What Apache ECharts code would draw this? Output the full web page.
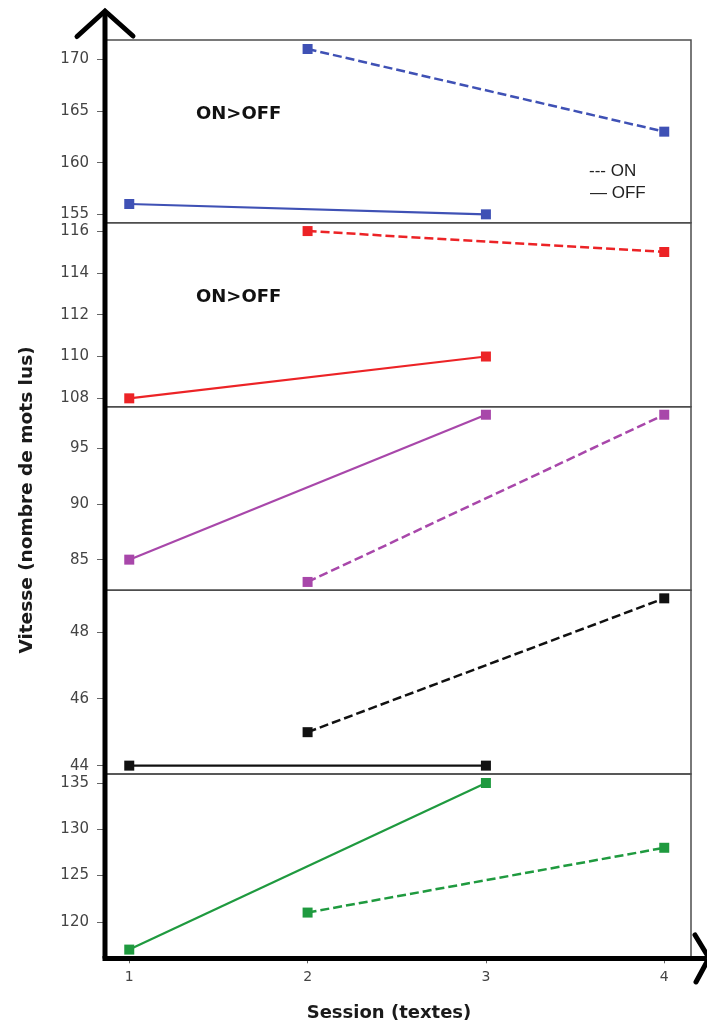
<!DOCTYPE html>
<html>
<head>
<meta charset="utf-8">
<script src="https://cdn.jsdelivr.net/npm/echarts@6/dist/echarts.min.js"></script>
<style>html,body{margin:0;padding:0;background:#fff}#c{width:707px;height:1025px}</style>
</head>
<body>
<div id="c"></div>
<script>
// ---- data ----
var sessionsOff = [1, 3];
var sessionsOn = [2, 4];
var xTicks = [1, 2, 3, 4];

var blueOff = [156, 155];
var blueOn = [171, 163];
var redOff = [108, 110];
var redOn = [116, 115];
var purpleOff = [85, 98];
var purpleOn = [83, 98];
var blackOff = [44, 44];
var blackOn = [45, 49];
var greenOff = [117, 135];
var greenOn = [121, 128];

var ticksP1 = [155, 160, 165, 170];
var ticksP2 = [108, 110, 112, 114, 116];
var ticksP3 = [85, 90, 95];
var ticksP4 = [44, 46, 48];
var ticksP5 = [120, 125, 130, 135];

var yTitle = 'Vitesse (nombre de mots lus)';
var xTitle = 'Session (textes)';
var annot = 'ON>OFF';
var legendOn = '--- ON';
var legendOff = '\u2014 OFF';

// ---- layout / style ----
var gridLeft = 105, gridWidth = 586;
var xMin = 0.864, xMax = 4.150;
var panels = [
  {top: 40,    h: 182.7, min: 154.19, max: 171.87, ticks: ticksP1, color: '#3f51b5', off: blueOff,   on: blueOn},
  {top: 222.7, h: 184,   min: 107.6,  max: 116.40, ticks: ticksP2, color: '#ec2326', off: redOff,    on: redOn},
  {top: 406.7, h: 183.6, min: 82.25,  max: 98.72,  ticks: ticksP3, color: '#a847aa', off: purpleOff, on: purpleOn},
  {top: 590.3, h: 183.7, min: 43.75,  max: 49.24,  ticks: ticksP4, color: '#111111', off: blackOff,  on: blackOn},
  {top: 774,   h: 184.3, min: 116.06, max: 135.97, ticks: ticksP5, color: '#1f9a3f', off: greenOff,  on: greenOn}
];

function pairs(xs, ys) { return xs.map(function (x, i) { return [x, ys[i]]; }); }

var grids = [], xAxes = [], yAxes = [], series = [];
panels.forEach(function (p, i) {
  var last = i === panels.length - 1;
  grids.push({left: gridLeft, width: gridWidth, top: p.top, height: p.h,
    show: true, borderColor: '#4d4d4d', borderWidth: 1.5, backgroundColor: 'transparent'});
  xAxes.push({type: 'value', gridIndex: i, min: xMin, max: xMax,
    axisLine: {show: false}, splitLine: {show: false},
    axisTick: {show: last, customValues: xTicks, length: 5, lineStyle: {color: '#666'}},
    axisLabel: {show: last, customValues: xTicks, margin: 12, color: '#444', fontSize: 14, fontFamily: 'DejaVu Sans'}
  });
  yAxes.push({type: 'value', gridIndex: i, min: p.min, max: p.max,
    axisLine: {show: false}, splitLine: {show: false},
    axisTick: {show: true, customValues: p.ticks, length: 8, lineStyle: {color: '#666', width: 1}},
    axisLabel: {customValues: p.ticks, margin: 16, color: '#444', fontSize: 15, fontFamily: 'DejaVu Sans'}
  });
  series.push({type: 'line', xAxisIndex: i, yAxisIndex: i, data: pairs(sessionsOff, p.off),
    symbol: 'rect', symbolSize: 10, clip: false, animation: false,
    lineStyle: {color: p.color, width: 2.2}, itemStyle: {color: p.color}});
  series.push({type: 'line', xAxisIndex: i, yAxisIndex: i, data: pairs(sessionsOn, p.on),
    symbol: 'rect', symbolSize: 10, clip: false, animation: false,
    lineStyle: {color: p.color, width: 2.5, type: [9, 4]}, itemStyle: {color: p.color}});
});

var axisY = 958.5, axisX = 105;
var graphic = [
  {type: 'polyline', shape: {points: [[axisX, 12], [axisX, axisY]]}, style: {stroke: '#000', lineWidth: 5, fill: null}, z: 10},
  {type: 'polyline', shape: {points: [[axisX - 2.5, axisY], [706, axisY]]}, style: {stroke: '#000', lineWidth: 5, fill: null}, z: 10},
  {type: 'polyline', shape: {points: [[77, 36.5], [axisX, 11], [133, 36]]}, style: {stroke: '#000', lineWidth: 5, fill: null, lineCap: 'round', lineJoin: 'miter'}, z: 10},
  {type: 'polyline', shape: {points: [[695, 935], [709, 958], [696, 982]]}, style: {stroke: '#000', lineWidth: 5, fill: null, lineCap: 'round', lineJoin: 'miter'}, z: 10},
  {type: 'text', x: 27, y: 500, rotation: Math.PI / 2, style: {text: yTitle, fill: '#1a1a1a', font: 'bold 18.5px "DejaVu Sans"', align: 'center', verticalAlign: 'middle'}},
  {type: 'text', x: 389, y: 1013, style: {text: xTitle, fill: '#1a1a1a', font: 'bold 18px "DejaVu Sans"', align: 'center', verticalAlign: 'middle'}},
  {type: 'text', x: 196, y: 114, style: {text: annot, fill: '#111', font: 'bold 18px "DejaVu Sans"', align: 'left', verticalAlign: 'middle'}},
  {type: 'text', x: 196, y: 297, style: {text: annot, fill: '#111', font: 'bold 18px "DejaVu Sans"', align: 'left', verticalAlign: 'middle'}},
  {type: 'text', x: 589, y: 171, style: {text: legendOn, fill: '#222', font: '17px "Liberation Sans"', align: 'left', verticalAlign: 'middle'}},
  {type: 'text', x: 590, y: 193, style: {text: legendOff, fill: '#222', font: '17px "Liberation Sans"', align: 'left', verticalAlign: 'middle'}}
];

var chart = echarts.init(document.getElementById('c'), null, {renderer: 'canvas'});
chart.setOption({
  animation: false,
  backgroundColor: '#fff',
  grid: grids, xAxis: xAxes, yAxis: yAxes, series: series, graphic: graphic
});
</script>
</body>
</html>
